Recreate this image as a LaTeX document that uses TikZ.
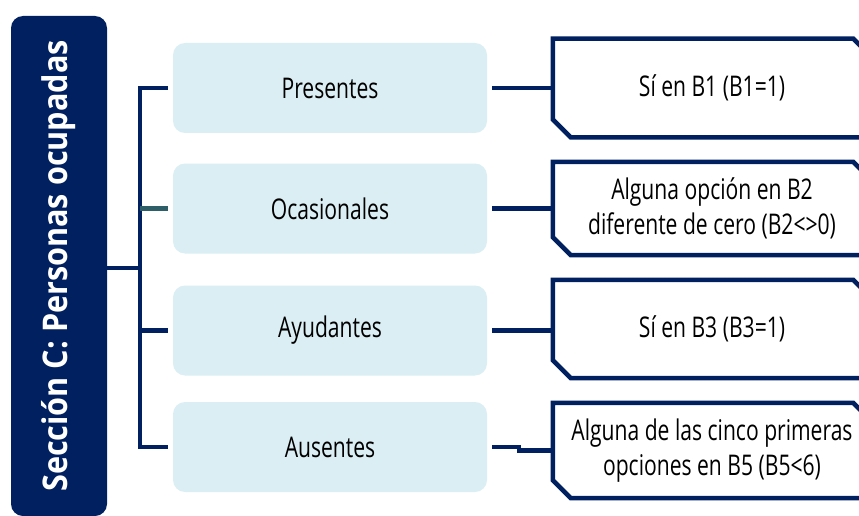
\documentclass[tikz,border=0pt]{standalone}
\usepackage{fontspec}
\setmainfont{Open Sans}[FakeStretch=0.74]
\newfontfamily\titlefont{Open Sans}[FakeStretch=0.9]
\definecolor{navy}{RGB}{0,32,96}
\definecolor{paleblue}{RGB}{218,238,243}
\definecolor{tealline}{RGB}{46,94,104}

\begin{document}
\begin{tikzpicture}[x=1pt,y=-1pt,
  section/.style={fill=navy,text=white,rounded corners=12pt,rotate=90,
    minimum width=500pt,minimum height=96pt,
    font=\titlefont\fontsize{34}{40}\selectfont\bfseries},
  group/.style={fill=paleblue,rounded corners=12pt,minimum width=314pt,
    minimum height=90pt,font=\fontsize{28.5}{34}\selectfont},
  rule/.style={minimum width=318pt,align=center,
    font=\fontsize{28.5}{35}\selectfont},
  frame/.style={draw=navy,line width=4.5pt},
  link/.style={draw=navy,line width=4.5pt}]
\useasboundingbox (0,0) rectangle (859,516);

\node [section] (title) at (59,266) {Sección C: Personas ocupadas};

\node [group] (pres) at (330, 88) {Presentes};
\node [group] (ocas) at (330,208.5) {Ocasionales};
\node [group] (ayud) at (330,330.5) {Ayudantes};
\node [group] (aus)  at (330,447) {Ausentes};

\node [rule,minimum height=98.5pt] (b1) at (712, 88) {Sí en B1 (B1=1)};
\node [rule,minimum height=93pt]   (b2) at (712,208.5)
    {Alguna opción en B2\\ diferente de cero (B2<>0)};
\node [rule,minimum height=98pt]   (b3) at (712,329) {Sí en B3 (B3=1)};
\node [rule,minimum height=95pt]   (b4) at (712,450.5)
    {Alguna de las cinco primeras\\ opciones en B5 (B5<6)};

% chamfered frames of the right column
\foreach \b in {b1,b2,b3,b4}
  \draw [frame] ([xshift=18pt]\b.south west) -- ([yshift=18pt]\b.south west)
    -- (\b.north west) -- ([xshift=-18pt]\b.north east)
    -- ([yshift=-18pt]\b.north east) -- (\b.south east) -- cycle;

\coordinate (hub) at (140,268);
\draw [link] (title.south |- hub) -- (hub);
\draw [link,line cap=rect] (pres.west -| hub) -- (aus.west -| hub);
\draw [link,shorten >=5pt] (pres.west -| hub) -- (pres.west);
\draw [link,draw=tealline,shorten >=5pt] (ocas.west -| hub) -- (ocas.west);
\draw [link,shorten >=5pt] (ayud.west -| hub) -- (ayud.west);
\draw [link,shorten >=5pt] (aus.west -| hub) -- (aus.west);

\draw [link,shorten <=5pt] (pres.east) -- (b1.west);
\draw [link,shorten <=5pt] (ocas.east) -- (b2.west);
\draw [link,shorten <=5pt] (ayud.east) -- (ayud.east -| b3.west);
\draw [link,shorten <=5pt] (aus.east) -- ++(32,0) |- (b4.west);
\end{tikzpicture}
\end{document}
